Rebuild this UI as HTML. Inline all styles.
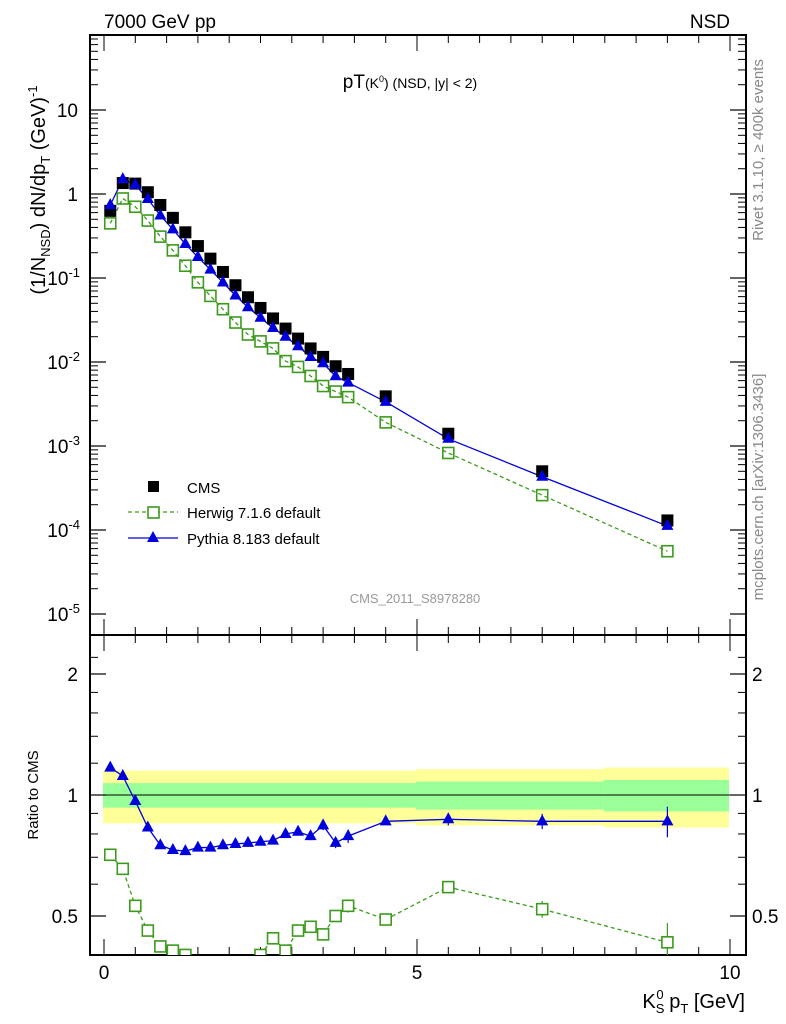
<!DOCTYPE html>
<html><head><meta charset="utf-8"><style>
body{margin:0;background:#fff;}
svg{display:block;font-family:"Liberation Sans",sans-serif;}
</style></head><body>
<svg id="c" width="786" height="1024" xmlns="http://www.w3.org/2000/svg">
<rect x="0" y="0" width="786" height="1024" fill="#fff"/>
<text x="104" y="28" font-size="19">7000 GeV pp</text>
<text x="730" y="28" font-size="19" text-anchor="end">NSD</text>
<text x="410" y="88" font-size="19" text-anchor="middle">pT<tspan font-size="14">(K</tspan><tspan font-size="9" dy="-6">0</tspan><tspan font-size="14" dy="6">) (NSD, |y| &lt; 2)</tspan></text>
<text transform="translate(763,150) rotate(-90)" font-size="15" fill="#888" text-anchor="middle">Rivet 3.1.10, ≥ 400k events</text>
<text transform="translate(763,487) rotate(-90)" font-size="15" fill="#888" text-anchor="middle">mcplots.cern.ch [arXiv:1306.3436]</text>
<text x="415" y="603" font-size="13" fill="#999" text-anchor="middle">CMS_2011_S8978280</text>
<text transform="translate(45,190) rotate(-90)" font-size="20" text-anchor="middle">(1/N<tspan font-size="13" dy="5">NSD</tspan><tspan dy="-5">) dN/dp</tspan><tspan font-size="13" dy="5">T</tspan><tspan dy="-5"> (GeV)</tspan><tspan font-size="13" dy="-8">-1</tspan></text>
<text transform="translate(38,795) rotate(-90)" font-size="15" text-anchor="middle">Ratio to CMS</text>
<text x="745" y="1008" font-size="20" text-anchor="end">K<tspan font-size="13" dy="5">S</tspan><tspan font-size="13" dx="-8" dy="-14">0</tspan><tspan dy="9"> p</tspan><tspan font-size="13" dy="5">T</tspan><tspan dy="-5"> [GeV]</tspan></text>
<g id="bands"></g>
<g id="axes"></g>
<g id="marks"></g>
<g id="legend">
<rect x="148" y="481" width="11" height="11" fill="#000"/>
<text x="187" y="493" font-size="15">CMS</text>
<line x1="128" y1="512" x2="178" y2="512" stroke="#3c9a1c" stroke-width="1.3" stroke-dasharray="4,3"/>
<rect x="148" y="507" width="11" height="11" fill="#fff" stroke="#3c9a1c" stroke-width="1.6"/>
<text x="187" y="518" font-size="15">Herwig 7.1.6 default</text>
<line x1="128" y1="538" x2="178" y2="538" stroke="#0000dd" stroke-width="1.3"/>
<path d="M153 531 L159 542 L147 542 Z" fill="#0000dd"/>
<text x="187" y="544" font-size="15">Pythia 8.183 default</text>
</g>
</svg>
<script>
const xs=[0.1,0.3,0.5,0.7,0.9,1.1,1.3,1.5,1.7,1.9,2.1,2.3,2.5,2.7,2.9,3.1,3.3,3.5,3.7,3.9,4.5,5.5,7.0,9.0];
const cms=[0.63,1.35,1.33,1.05,0.74,0.52,0.35,0.24,0.17,0.118,0.082,0.059,0.044,0.033,0.025,0.019,0.0145,0.0115,0.0089,0.0072,0.0039,0.0014,0.0005,0.00013];
const pyRatio=[1.17,1.115,0.966,0.83,0.75,0.73,0.725,0.74,0.74,0.75,0.755,0.76,0.765,0.77,0.8,0.81,0.79,0.84,0.76,0.79,0.86,0.87,0.86,0.86];
const hwRatio=[0.71,0.655,0.53,0.46,0.42,0.41,0.40,0.37,0.36,0.36,0.36,0.36,0.40,0.44,0.41,0.46,0.47,0.45,0.5,0.53,0.49,0.59,0.52,0.43];
const ratioErr=[0.005,0.005,0.005,0.005,0.005,0.005,0.005,0.005,0.005,0.005,0.005,0.005,0.005,0.005,0.01,0.01,0.012,0.015,0.015,0.02,0.01,0.02,0.025,0.05];
const bandEdges=[0,5,8,10];
const band1=[0.07,0.08,0.09];
const band2=[0.15,0.16,0.17];
const yTicks=[10,1,0.1,0.01,0.001,0.0001,0.00001];
const yTickLabels=["10","1","10^-1","10^-2","10^-3","10^-4","10^-5"];
const rTicks=[2,1,0.5];
const xTicks=[0,5,10];

const NS="http://www.w3.org/2000/svg";
const L=90,R=746,T=35,MB=635,RB=955;
const X=v=>104+v*62.6;
const Y=v=>194-84*Math.log10(v);
const RY=v=>795-121*Math.log2(v);
function mk(p,tag,at){const e=document.createElementNS(NS,tag);for(const k in at)e.setAttribute(k,at[k]);document.getElementById(p).appendChild(e);return e;}

for(let i=0;i<3;i++){
 let r=mk('bands','rect',{x:X(bandEdges[i])-1,y:RY(1+band2[i]),width:X(bandEdges[i+1])-X(bandEdges[i]),height:RY(1-band2[i])-RY(1+band2[i]),fill:'#ffff99'});
 
 
 let g=mk('bands','rect',{x:X(bandEdges[i])-1,y:RY(1+band1[i]),width:X(bandEdges[i+1])-X(bandEdges[i]),height:RY(1-band1[i])-RY(1+band1[i]),fill:'#99ff99'});
 
 
}
mk('bands','line',{x1:L,x2:R,y1:RY(1),y2:RY(1),stroke:'#000','stroke-width':1});

let f1=mk('axes','rect',{x:L,y:T,width:R-L,height:MB-T,fill:'none',stroke:'#000','stroke-width':2});


let f2=mk('axes','rect',{x:L,y:MB,width:R-L,height:RB-MB,fill:'none',stroke:'#000','stroke-width':2});



yTicks.forEach((v,i)=>{
 const y=Y(v);
 mk('axes','line',{x1:L,x2:L+16,y1:y,y2:y,stroke:'#000','stroke-width':1.2});
 mk('axes','line',{x1:R,x2:R-16,y1:y,y2:y,stroke:'#000','stroke-width':1.2});
 for(let m=2;m<10;m++){const yy=Y(v*m);if(yy<T+2)continue;
  mk('axes','line',{x1:L,x2:L+8,y1:yy,y2:yy,stroke:'#000','stroke-width':1});
  mk('axes','line',{x1:R,x2:R-8,y1:yy,y2:yy,stroke:'#000','stroke-width':1});}
 const lab=yTickLabels[i];
 let t=mk('axes','text',{x:78,y:y+7,'font-size':19,'text-anchor':'end'});
 
 
 if(lab.indexOf('^')>=0){const p=lab.split('^');t.textContent=p[0];const s=document.createElementNS(NS,'tspan');s.setAttribute('font-size','13');s.setAttribute('dy','-8');s.textContent=p[1];t.appendChild(s);t.setAttribute('x',80);}
 else t.textContent=lab;
});
rTicks.forEach(v=>{const y=RY(v);
 mk('axes','line',{x1:L,x2:L+16,y1:y,y2:y,stroke:'#000','stroke-width':1.2});
 mk('axes','line',{x1:R,x2:R-16,y1:y,y2:y,stroke:'#000','stroke-width':1.2});
 let t=mk('axes','text',{x:78,y:y+7,'font-size':19,'text-anchor':'end'});t.textContent=String(v);
 
 
 let t2=mk('axes','text',{x:752,y:y+7,'font-size':19});t2.textContent=String(v);
 
 
});
[0.4,0.6,0.7,0.8,0.9,1.2,1.4,1.6,1.8,2.2].forEach(v=>{const y=RY(v);if(y>RB||y<MB)return;
 mk('axes','line',{x1:L,x2:L+8,y1:y,y2:y,stroke:'#000','stroke-width':1});
 mk('axes','line',{x1:R,x2:R-8,y1:y,y2:y,stroke:'#000','stroke-width':1});});
for(let v=0;v<=10.01;v+=0.5){const x=X(v);const big=Math.abs(v%5)<0.01;const len=big?16:8;
 [[T,T+len],[MB,MB-len],[MB,MB+len],[RB,RB-len]].forEach(p=>mk('axes','line',{x1:x,x2:x,y1:p[0],y2:p[1],stroke:'#000','stroke-width':1}));}
xTicks.forEach(v=>{let t=mk('axes','text',{x:X(v),y:979,'font-size':19,'text-anchor':'middle'});t.textContent=String(v);
 
 });

const hw=cms.map((c,i)=>c*hwRatio[i]);
const py=cms.map((c,i)=>c*pyRatio[i]);
mk('marks','polyline',{points:xs.map((x,i)=>X(x)+','+Y(hw[i])).join(' '),fill:'none',stroke:'#3c9a1c','stroke-width':1.3,'stroke-dasharray':'4,3'});
mk('marks','polyline',{points:xs.map((x,i)=>X(x)+','+Y(py[i])).join(' '),fill:'none',stroke:'#0000dd','stroke-width':1.3});
xs.forEach((x,i)=>{
 let c=mk('marks','rect',{x:X(x)-6,y:Y(cms[i])-6,width:12,height:12,fill:'#000'});
 
 
 let h=mk('marks','rect',{x:X(x)-5.5,y:Y(hw[i])-5.5,width:11,height:11,fill:'none',stroke:'#3c9a1c','stroke-width':1.6});
 
 
 let p=mk('marks','path',{d:`M${X(x)} ${Y(py[i])-7} L${X(x)+6} ${Y(py[i])+4} L${X(x)-6} ${Y(py[i])+4} Z`,fill:'#0000dd'});
 
 
});
const clip=mk('marks','clipPath',{id:'rc'});
const cr=document.createElementNS(NS,'rect');cr.setAttribute('x',L);cr.setAttribute('y',MB);cr.setAttribute('width',R-L);cr.setAttribute('height',RB-MB);clip.appendChild(cr);
const rg=mk('marks','g',{'clip-path':'url(#rc)',id:'rg'});
mk('rg','polyline',{points:xs.map((x,i)=>X(x)+','+RY(hwRatio[i])).join(' '),fill:'none',stroke:'#3c9a1c','stroke-width':1.3,'stroke-dasharray':'4,3'});
mk('rg','polyline',{points:xs.map((x,i)=>X(x)+','+RY(pyRatio[i])).join(' '),fill:'none',stroke:'#0000dd','stroke-width':1.3});
xs.forEach((x,i)=>{
 const e=ratioErr[i];
 mk('rg','line',{x1:X(x),x2:X(x),y1:RY(pyRatio[i]+e*1.5),y2:RY(pyRatio[i]-e*1.5),stroke:'#0000dd','stroke-width':1.2});
 mk('rg','line',{x1:X(x),x2:X(x),y1:RY(hwRatio[i]+e),y2:RY(hwRatio[i]-e),stroke:'#3c9a1c','stroke-width':1.2});
 let h=mk('rg','rect',{x:X(x)-5.5,y:RY(hwRatio[i])-5.5,width:11,height:11,fill:'#fff',stroke:'#3c9a1c','stroke-width':1.6});
 
 
 let p=mk('rg','path',{d:`M${X(x)} ${RY(pyRatio[i])-7} L${X(x)+6} ${RY(pyRatio[i])+4} L${X(x)-6} ${RY(pyRatio[i])+4} Z`,fill:'#0000dd'});
 
 
});
</script>
</body></html>
